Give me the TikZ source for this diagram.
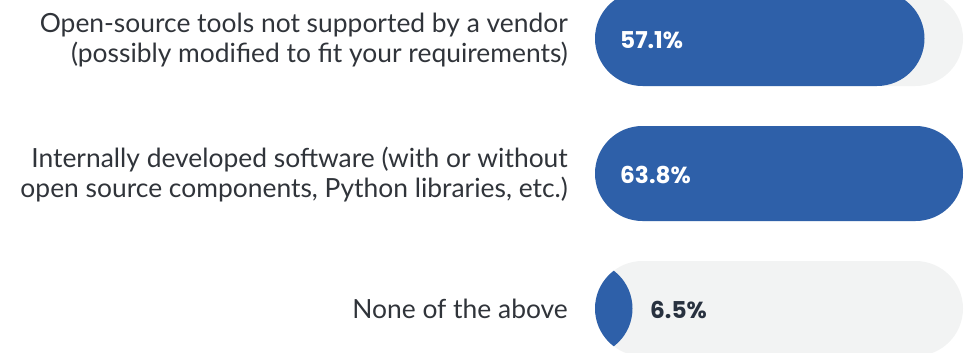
\documentclass[tikz,border=0pt]{standalone}
\usepackage{fontspec}
\setmainfont{Lato}
\newfontfamily\pctfont{Poppins}
\definecolor{barblue}{HTML}{2E60A9}
\definecolor{track}{HTML}{F2F3F3}
\definecolor{labelgray}{HTML}{30343A}
\definecolor{pctdark}{HTML}{28313F}
\begin{document}
\begin{tikzpicture}[x=1pt,y=-1pt,
  trackbar/.style={fill=track,draw=none,rounded corners=47.5pt},
  valuebar/.style={fill=barblue,draw=none,rounded corners=47.5pt},
  cat/.style={anchor=east,align=right,text=labelgray,font=\fontsize{26.4}{30}\selectfont,inner sep=0pt},
  pct/.style={anchor=west,font=\pctfont\bfseries\fontsize{23.2}{26}\selectfont,inner sep=0pt}]
\useasboundingbox (0,0) rectangle (969,353);
\clip (0,0) rectangle (969,353);

% bar 1 : 57.1%
\fill[trackbar] (595,-9) rectangle (963,86);
\fill[valuebar] (595,-9) rectangle (924.5,86);
\node[pct,text=white] (v1) at (620,40) {57.1\%};
\node[cat] (c1) at (568,40) {Open-source tools not supported by a vendor\\(possibly modified to fit your requirements)};

% bar 2 : 63.8%
\fill[trackbar] (595,126) rectangle (963,221);
\fill[valuebar] (595,126) rectangle (963,221);
\node[pct,text=white] (v2) at (620,175) {63.8\%};
\node[cat] (c2) at (568,175) {Internally developed software (with or without\\open source components, Python libraries, etc.)};

% bar 3 : 6.5%
\fill[trackbar] (595,261) rectangle (963,356);
\begin{scope}
  \clip (642.5,308.5) circle (47.5);
  \fill[barblue] (585,308.5) circle (47.5);
\end{scope}
\node[pct,text=pctdark] (v3) at (650,310) {6.5\%};
\node[cat] (c3) at (568,309) {None of the above};
\end{tikzpicture}
\end{document}
